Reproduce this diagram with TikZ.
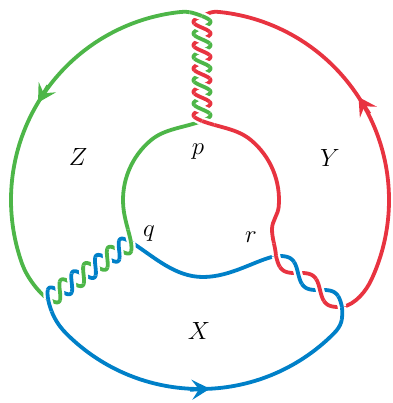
\documentclass[tikz,border=0pt]{standalone}
\usetikzlibrary{arrows.meta}
\definecolor{cgreen}{RGB}{77,182,72}
\definecolor{cred}{RGB}{232,51,64}
\definecolor{cblue}{RGB}{0,128,200}
\tikzset{
  strand/.style={line width=3.8pt, line cap=round, line join=round},
  overpiece/.style={line width=3.8pt, line cap=butt, line join=round,
    preaction={draw=white, line width=8.5pt, line cap=butt}},
  arrowtip/.style={line width=3.8pt, -{Stealth[length=18pt,width=20pt,inset=7pt]}},
  lbl/.style={anchor=base, inner sep=0pt, font=\fontsize{24.88}{30}\selectfont}
}
% #1 Ax #2 Ay #3 Bx #4 By #5 n #6 a
\newcommand{\settwist}[6]{%
  \pgfmathsetmacro\tAx{#1}%
  \pgfmathsetmacro\tAy{#2}%
  \pgfmathsetmacro\tdx{(#3)-(#1)}%
  \pgfmathsetmacro\tdy{(#4)-(#2)}%
  \pgfmathsetmacro\tL{sqrt((\tdx)*(\tdx)+(\tdy)*(\tdy))}%
  \pgfmathsetmacro\tpx{(\tdy)/\tL}%
  \pgfmathsetmacro\tpy{-(\tdx)/\tL}%
  \pgfmathtruncatemacro\tn{#5}%
  \pgfmathsetmacro\ta{#6}}
\newcommand{\twistfull}[9]{%
  \settwist{#1}{#2}{#3}{#4}{#5}{#6}%
  \draw[strand,#7] plot[domain=0:1,samples=400,variable=\s]
    ({\tAx+\s*(\tdx)+\ta*sin(180*\tn*\s)*(\tpx)},{\tAy+\s*(\tdy)+\ta*sin(180*\tn*\s)*(\tpy)});
  \draw[strand,#8] plot[domain=0:1,samples=400,variable=\s]
    ({\tAx+\s*(\tdx)-\ta*sin(180*\tn*\s)*(\tpx)},{\tAy+\s*(\tdy)-\ta*sin(180*\tn*\s)*(\tpy)});
}
\newcommand{\twistover}[9]{%
  \settwist{#1}{#2}{#3}{#4}{#5}{#6}%
  \foreach \j in {0,...,\tn}{%
    \pgfmathsetmacro\smin{max(0,(\j-0.35)/\tn)}%
    \pgfmathsetmacro\smax{min(1,(\j+0.35)/\tn)}%
    \pgfmathtruncatemacro\sig{mod(\j+#9,2)==0 ? 1 : -1}%
    \ifnum\sig=1 \def\curcol{#7}\else\def\curcol{#8}\fi
    \draw[overpiece,\curcol] plot[domain=\smin:\smax,samples=30,variable=\s]
      ({\tAx+\s*(\tdx)+(\sig)*\ta*sin(180*\tn*\s)*(\tpx)},{\tAy+\s*(\tdy)+(\sig)*\ta*sin(180*\tn*\s)*(\tpy)});
  }%
}
\begin{document}
\begin{tikzpicture}[x=1pt,y=-1pt]
\useasboundingbox (0,0) rectangle (392,403);
% centres of the two circles
\coordinate (C) at (200,200);
\coordinate (CI) at (201,200);
% junctions (ends of the twisted bands)
\coordinate (TA) at (202,16);
\coordinate (TB) at (202,121);
\coordinate (LA) at (131,242);
\coordinate (LB) at (48,299);
\coordinate (RA) at (276,256);
\coordinate (RB) at (342,307);
% points on the circles
\coordinate (G1) at ([shift={(96:189pt)}]C);
\coordinate (R1) at ([shift={(-25:189pt)}]C);
\coordinate (B1) at ([shift={(225:189pt)}]C);
\coordinate (AG) at ([shift={(149:189pt)}]C);
\coordinate (AR) at ([shift={(33:189pt)}]C);
\coordinate (AB) at ([shift={(-87:189pt)}]C);
\coordinate (GI1) at ([shift={(130:78pt)}]CI);
\coordinate (RI1) at ([shift={(50:78pt)}]CI);
\coordinate (RI2) at (272,229);
\coordinate (BI) at (203,277);
% arc paths
\def\pGreenOuter{(TA) .. controls +(159.8:9pt) and +(6:9pt) .. (G1)
  arc[start angle=96, end angle=200, radius=189pt]
  .. controls +(290:14pt) and +(147.2:10pt) .. (LB)}
\def\pRedOuter{(RB) .. controls +(10.8:14pt) and +(245:12pt) .. (R1)
  arc[start angle=-25, end angle=84, radius=189pt]
  .. controls +(174:9pt) and +(20.2:9pt) .. (TA)}
\def\pBlueOuter{(LB) .. controls +(-78.3:14pt) and +(135:14pt) .. (B1)
  arc[start angle=225, end angle=315, radius=189pt]
  .. controls +(45:12pt) and +(-86.2:12pt) .. (RB)}
\def\pGreenInner{(TB) .. controls +(200.2:20pt) and +(40:18pt) .. (GI1)
  arc[start angle=130, end angle=185, radius=78pt]
  .. controls +(275:12pt) and +(101.7:12pt) .. (LA)}
\def\pRedInner{(TB) .. controls +(-20.2:20pt) and +(140:18pt) .. (RI1)
  arc[start angle=50, end angle=-5, radius=78pt]
  .. controls +(265:8pt) and +(90:8pt) .. (RI2)
  .. controls +(270:10pt) and +(93.8:10pt) .. (RA)}
\def\pBlueInner{(LA) .. controls +(-32.8:28pt) and +(180:28pt) .. (BI)
  .. controls +(0:28pt) and +(190.8:20pt) .. (RA)}
% 1. arcs
\draw[strand,cgreen] \pGreenOuter;
\draw[strand,cred] \pRedOuter;
\draw[strand,cblue] \pBlueOuter;
\draw[strand,cgreen] \pGreenInner;
\draw[strand,cred] \pRedInner;
\draw[strand,cblue] \pBlueInner;
% 2. twisted bands
\twistfull{202}{16}{202}{121}{9}{8.5}{cgreen}{cred}{0}
\twistfull{131}{242}{48}{299}{7}{8.5}{cgreen}{cblue}{0}
\twistfull{276}{256}{342}{307}{3}{7}{cblue}{cred}{1}
% 3. over-arcs at the band ends
\begin{scope}\clip (TA) circle (13pt); \draw[overpiece,cgreen] \pGreenOuter; \end{scope}
\begin{scope}\clip (TB) circle (13pt); \draw[overpiece,cred] \pRedInner; \end{scope}
\begin{scope}\clip (LA) circle (13pt); \draw[overpiece,cgreen] \pGreenInner; \end{scope}
\begin{scope}\clip (LB) circle (13pt); \draw[overpiece,cblue] \pBlueOuter; \end{scope}
\begin{scope}\clip (RA) circle (13pt); \draw[overpiece,cred] \pRedInner; \end{scope}
\begin{scope}\clip (RB) circle (13pt); \draw[overpiece,cblue] \pBlueOuter; \end{scope}
% 4. crossings inside the bands
\twistover{202}{16}{202}{121}{9}{8.5}{cgreen}{cred}{0}
\twistover{131}{242}{48}{299}{7}{8.5}{cgreen}{cblue}{0}
\twistover{276}{256}{342}{307}{3}{7}{cblue}{cred}{1}
% arrows
\draw[arrowtip,cgreen] ([shift={(59:20pt)}]AG) -- (AG);
\draw[arrowtip,cred] ([shift={(303:20pt)}]AR) -- (AR);
\draw[arrowtip,cblue] ([shift={(183:20pt)}]AB) -- (AB);
% labels
\node[lbl] (lZ) at (78,166) {$Z$};
\node[lbl] (lY) at (330,167) {$Y$};
\node[lbl] (lX) at (199,339) {$X$};
\node[lbl] (lp) at (198,154) {$p$};
\node[lbl] (lq) at (149,236) {$q$};
\node[lbl] (lr) at (251,242) {$r$};
\end{tikzpicture}
\end{document}
